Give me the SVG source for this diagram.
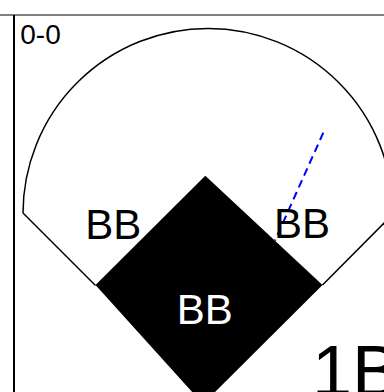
<svg xmlns="http://www.w3.org/2000/svg" width="384" height="392" viewBox="0 0 384 392">
<style>
.ln{fill:none;stroke:#000;stroke-width:1.5}
.lbl{font-family:"Liberation Sans",Arial,sans-serif;fill:#000}
</style>
<rect width="384" height="392" fill="#fff"/>
<g id="frame">
<line x1="0" y1="15" x2="384" y2="15" stroke="#000" stroke-width="1"/>
<line x1="14" y1="15" x2="14" y2="392" stroke="#000" stroke-width="2"/>
</g>
<g id="field">
<path class="ln" d="M23,213 A185,185 0 1 1 393,214"/>
</g>
<g id="connectors">
<path class="ln" d="M23,213 L95.5,285.5"/>
<path class="ln" d="M322.5,285 L393,214"/>
</g>
<g id="infield">
<polygon points="205.3,175.7 322.5,285 203,404 95.5,285" fill="#000"/>
</g>
<g id="throw">
<line x1="323.3" y1="132.7" x2="275" y2="240.5" stroke="#00f" stroke-width="2" stroke-dasharray="8,5"/>
</g>
<g id="score"><text class="lbl" x="20.3" y="44" font-size="28">0-0</text></g>
<g id="bb-left"><text class="lbl" x="113.3" y="238.7" font-size="42" text-anchor="middle">BB</text></g>
<g id="bb-right"><text class="lbl" x="302" y="238.3" font-size="42" text-anchor="middle">BB</text></g>
<g id="bb-center"><text class="lbl" x="204.7" y="324.3" font-size="42" text-anchor="middle" style="fill:#fff">BB</text></g>
<g id="first-base"><text class="lbl" x="312" y="395.5" font-size="72">1B</text></g>
</svg>
